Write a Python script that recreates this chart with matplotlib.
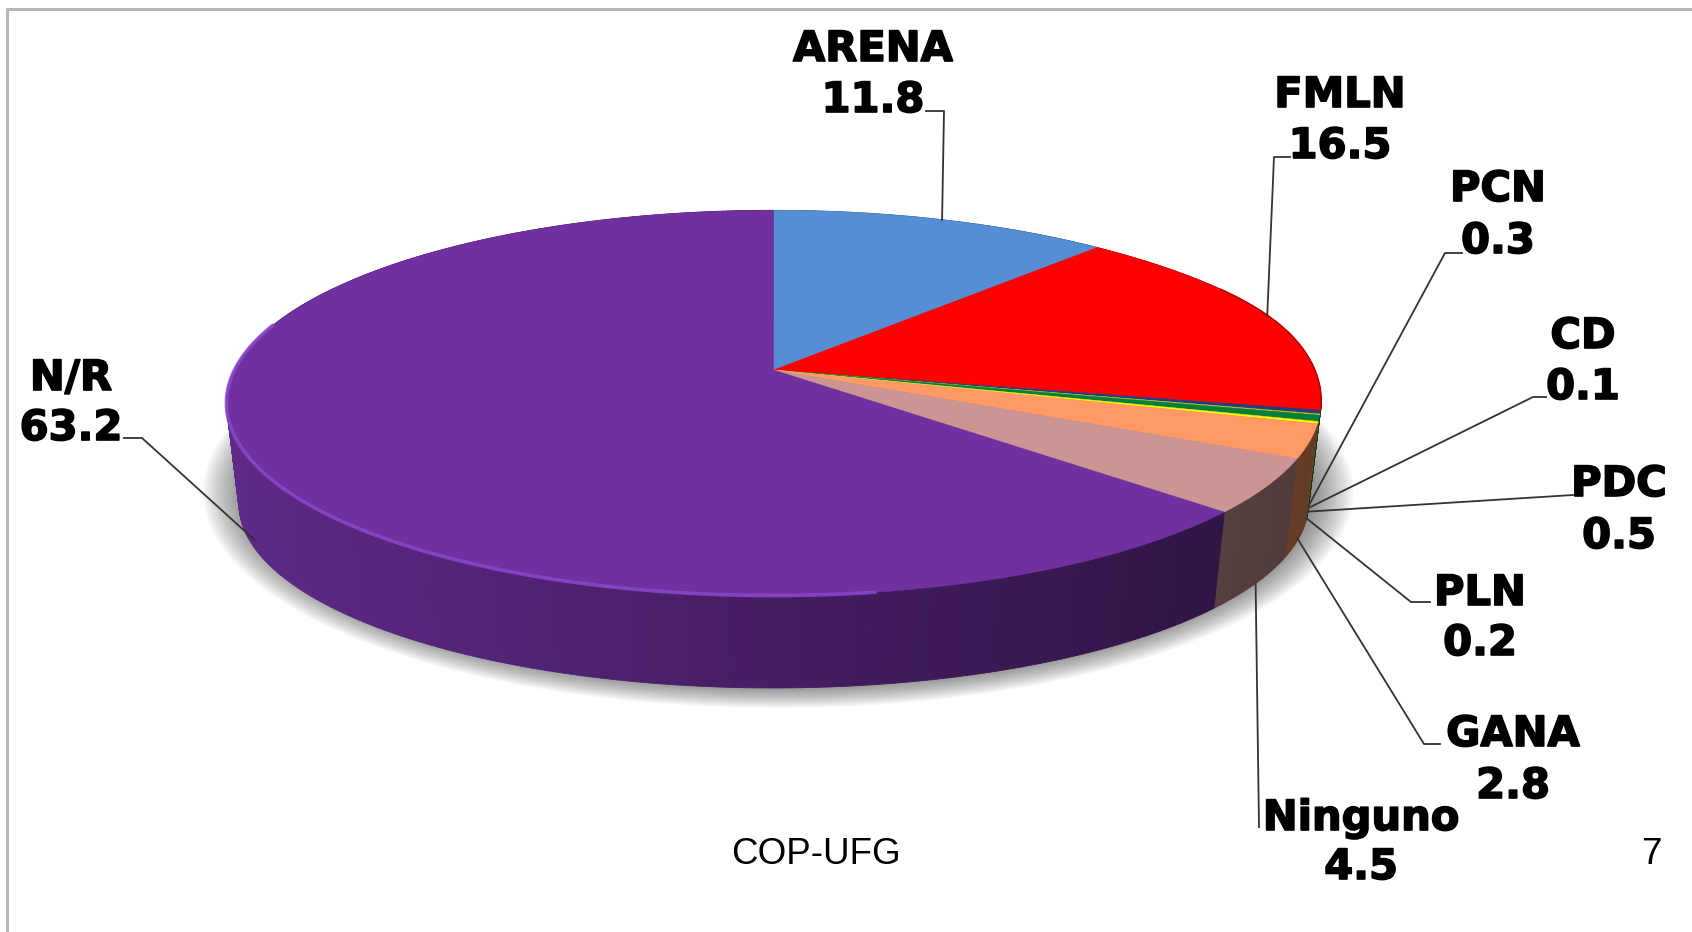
# plot.py - 3D-look pie chart, COP-UFG slide

import numpy as np
import matplotlib
matplotlib.use("Agg")
import matplotlib.pyplot as plt
import matplotlib.patheffects as pe
from matplotlib.collections import PolyCollection

# --- DATA ---
parties = ["ARENA", "FMLN", "PCN", "CD", "PDC", "PLN", "GANA", "Ninguno", "N/R"]
shares = [11.8, 16.5, 0.3, 0.1, 0.5, 0.2, 2.8, 4.5, 63.2]
value_labels = ["11.8", "16.5", "0.3", "0.1", "0.5", "0.2", "2.8", "4.5", "63.2"]

# --- STYLE SETTINGS ---
COLORS = ["#558ED5", "#FF0000", "#1F3F7F", "#C8CC20", "#00803C", "#FFF200",
          "#FF9966", "#CD9494", "#7030A0"]
FRAME = "#b8b8b8"
LEADER = "#333333"

# pie geometry, in pixels of the 1692x932 canvas
CX, CY = 773.5, 370.0
R, A, C = 539.0, 187.0, 0.171
TOP_MID_Y, BOT_MID_Y = 404.0, 505.0
BOT_SX, BOT_SY = 0.977, 0.955
BULGE = 0.012  # rim is a bit rounder on the right side

# text boxes and leader elbows: name -> (label x, name y, value y, elbow points)
LAYOUT = {
    "ARENA": (873, 49, 100, [(944, 111), (926, 111)]),
    "FMLN": (1340, 95, 146, [(1274, 157), (1290, 157)]),
    "PCN": (1498, 189, 241, [(1445, 253), (1462, 253)]),
    "CD": (1583, 336, 387, [(1533, 397), (1546, 397)]),
    "PDC": (1619, 484, 536, [(1573, 495)]),
    "PLN": (1480, 593, 643, [(1411, 602), (1430, 602)]),
    "GANA": (1513, 734, 786, [(1424, 744), (1440, 744)]),
    "Ninguno": (1361, 818, 867, [(1259, 827)]),
    "N/R": (71, 378, 428, [(142, 438), (124, 438)]),
}
# how far down the wall each leader starts, 0 means on the top rim
LEADER_DEPTH = {"ARENA": 0, "FMLN": 0, "PCN": 0.93, "CD": 0.93, "PDC": 0.93,
                "PLN": 0.95, "GANA": 0.98, "Ninguno": 1.0, "N/R": 0.9}


def top_point(theta):
    """Point on the top face rim, theta clockwise from 12 o'clock (radians)."""
    u, v = np.sin(theta), np.cos(theta)
    d = 1 + C * v
    f = 1 + BULGE * np.exp(-((theta - np.radians(72)) / np.radians(18)) ** 2)
    return CX + R * f * u / d, CY - A * f * v / d


def bottom_point(theta):
    x, y = top_point(theta)
    return CX + (x - CX) * BOT_SX, BOT_MID_Y + (y - TOP_MID_Y) * BOT_SY


def shade(color, factor):
    return np.clip(np.array(matplotlib.colors.to_rgb(color)) * factor, 0, 1)


fig = plt.figure(figsize=(16.92, 9.32), dpi=100)
ax = fig.add_axes([0, 0, 1, 1])
ax.set_xlim(0, 1692)
ax.set_ylim(932, 0)
ax.axis("off")

# Frame, only top and left show
ax.plot([1692, 6.5, 6.5], [9, 9, 932], color=FRAME, linewidth=2.2)

# Soft shadow under the pie
ring = np.linspace(0, 2 * np.pi, 240)
for k in np.linspace(1, 0, 24):
    ax.fill(778 + (525 + 50 * k) * np.cos(ring), 492 + (188 + 28 * k) * np.sin(ring),
            color="#303030", alpha=0.035, linewidth=0)

# Slice angles come from the shares
edges = np.cumsum([0] + shares) / sum(shares) * 2 * np.pi

# Side wall, small quads so the shading runs left to right
quads, quad_colors = [], []
for i, color in enumerate(COLORS):
    n = max(2, int((edges[i + 1] - edges[i]) / 0.01))
    t = np.linspace(edges[i], edges[i + 1], n + 1)
    for t0, t1 in zip(t[:-1], t[1:]):
        x0, y0 = top_point(t0)
        x1, y1 = top_point(t1)
        x2, y2 = bottom_point(t1)
        x3, y3 = bottom_point(t0)
        quads.append([(x0, y0), (x1, y1), (x2, y2), (x3, y3)])
        f = 0.85 - 0.46 * np.clip((x0 - 225) / (1320 - 225), 0, 1)
        quad_colors.append(shade(color, f))
wall = PolyCollection(quads, facecolors=quad_colors, edgecolors=quad_colors, linewidths=0.6)
ax.add_collection(wall)

# Top face
for i, color in enumerate(COLORS):
    t = np.linspace(edges[i], edges[i + 1], max(3, int((edges[i + 1] - edges[i]) / 0.005)))
    x, y = top_point(t)
    ax.fill(np.r_[CX, x], np.r_[CY, y], color=color, linewidth=0.3)

# Bevel highlight on the purple rim, darker edge on the red
t = np.linspace(0.95 * np.pi, 1.58 * np.pi, 300)
x, y = top_point(t)
ax.plot(x, y, color="#8A48CC", linewidth=2.6, alpha=0.85, solid_capstyle="round")
t = np.linspace(edges[1] + 0.35, edges[2], 100)
x, y = top_point(t)
ax.plot(x, y, color="#B00000", linewidth=1.2, alpha=0.8)

# Labels and leader lines
for i, name in enumerate(parties):
    lx, name_y, value_y, elbow = LAYOUT[name]
    mid = (edges[i] + edges[i + 1]) / 2
    sx, sy = top_point(mid)
    bx, by = bottom_point(mid)
    k = LEADER_DEPTH[name]
    xs = [sx + (bx - sx) * k] + [p[0] for p in elbow]
    ys = [sy + (by - sy) * k] + [p[1] for p in elbow]
    ax.plot(xs, ys, color=LEADER, linewidth=1.3)
    for label, y in ((name, name_y), (value_labels[i], value_y)):
        ax.text(lx, y, label, ha="center", va="center", fontsize=30, fontweight="bold",
                family="DejaVu Sans", color="black",
                path_effects=[pe.withStroke(linewidth=1.2, foreground="black")])

# Footer
ax.text(816, 854, "COP-UFG", ha="center", va="center", fontsize=26.5,
        family="Liberation Sans", color="black")
ax.text(1651, 854, "7", ha="center", va="center", fontsize=26.5,
        family="Liberation Sans", color="black")

fig.savefig("out.png", dpi=100)
plt.close(fig)
